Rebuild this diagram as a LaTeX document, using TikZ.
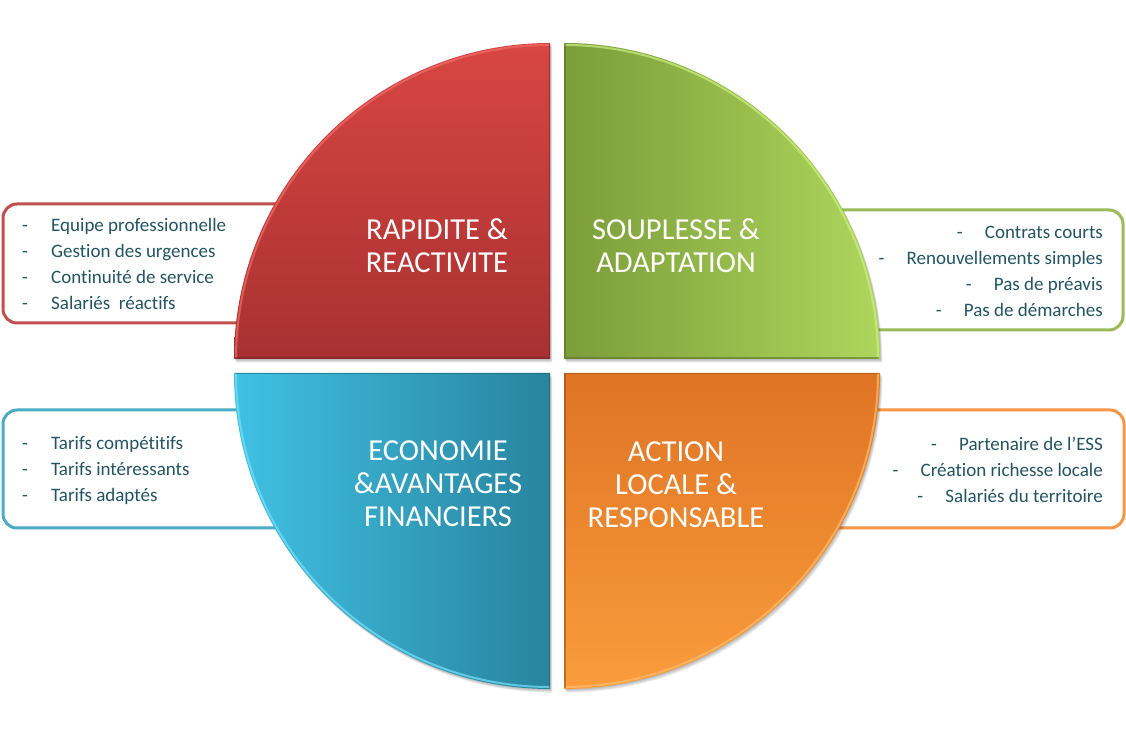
\documentclass[tikz,border=0pt]{standalone}
\usepackage{fontspec}
\setmainfont[Ligatures=NoCommon]{Carlito}
\definecolor{txtcol}{RGB}{36,84,98}
\definecolor{redline}{RGB}{192,80,77}
\definecolor{greenline}{RGB}{155,187,89}
\definecolor{blueline}{RGB}{75,172,198}
\definecolor{orangeline}{RGB}{247,150,70}
\definecolor{redtop}{RGB}{216,70,66}
\definecolor{redbot}{RGB}{168,49,49}
\definecolor{redhi}{RGB}{240,110,105}
\definecolor{reddk}{RGB}{120,35,35}
\definecolor{greenleft}{RGB}{124,157,58}
\definecolor{greenright}{RGB}{174,214,92}
\definecolor{greenhi}{RGB}{205,240,130}
\definecolor{greendk}{RGB}{90,115,40}
\definecolor{blueleft}{RGB}{64,193,228}
\definecolor{blueright}{RGB}{40,132,158}
\definecolor{bluehi}{RGB}{120,225,250}
\definecolor{bluedk}{RGB}{28,95,115}
\definecolor{orangetop}{RGB}{222,116,36}
\definecolor{orangebot}{RGB}{250,156,60}
\definecolor{orangehi}{RGB}{255,190,110}
\definecolor{orangedk}{RGB}{160,80,25}
\begin{document}
\begin{tikzpicture}[x=1pt,y=1pt,
  bodytext/.style={font=\fontsize{19}{22}\selectfont, text=txtcol, inner sep=0pt},
  titletext/.style={font=\fontsize{30.5}{33}\selectfont, text=white, align=center, inner sep=0pt},
  infobox/.style={rounded corners=14pt, line width=3pt, fill=white},
  shadowlayer/.style={fill=black, opacity=0.07}]
\useasboundingbox (0,0) rectangle (1126,731);
\fill[white] (0,0) rectangle (1126,731);

% info boxes (behind the disc)
\draw[infobox, draw=redline] (3,408) rectangle (330,527);
\draw[infobox, draw=greenline] (800,401) rectangle (1123,521);
\draw[infobox, draw=blueline] (3,203) rectangle (330,321);
\draw[infobox, draw=orangeline] (800,203) rectangle (1124,321);

% shadows
\foreach \s in {1,2,3,4}{
  \fill[shadowlayer, shift={(\s*0.6,-\s*0.9)}] (550,372) -- (234,372) arc[start angle=180,end angle=90,radius=316] -- cycle;
  \fill[shadowlayer, shift={(\s*0.6,-\s*0.9)}] (564,372) -- (564,688) arc[start angle=90,end angle=0,radius=316] -- cycle;
  \fill[shadowlayer, shift={(\s*0.6,-\s*0.9)}] (550,358) -- (234,358) arc[start angle=180,end angle=270,radius=316] -- cycle;
  \fill[shadowlayer, shift={(\s*0.6,-\s*0.9)}] (564,358) -- (880,358) arc[start angle=0,end angle=-90,radius=316] -- cycle;
}

% quarters
\shade[top color=redtop, bottom color=redbot] (550,372) -- (234,372) arc[start angle=180,end angle=90,radius=316] -- cycle;
\shade[left color=greenleft, right color=greenright] (564,372) -- (564,688) arc[start angle=90,end angle=0,radius=316] -- cycle;
\shade[left color=blueleft, right color=blueright] (550,358) -- (234,358) arc[start angle=180,end angle=270,radius=316] -- cycle;
\shade[top color=orangetop, bottom color=orangebot] (564,358) -- (880,358) arc[start angle=0,end angle=-90,radius=316] -- cycle;

% bevel highlights along arcs
\draw[redhi, line width=2pt, opacity=0.7] (550,372) ++(-314,0) arc[start angle=180,end angle=90,radius=314];
\draw[greenhi, line width=2pt, opacity=0.7] (564,372) ++(0,314) arc[start angle=90,end angle=0,radius=314];
\draw[bluehi, line width=2pt, opacity=0.7] (550,358) ++(-314,0) arc[start angle=180,end angle=270,radius=314];
\draw[orangehi, line width=2pt, opacity=0.7] (564,358) ++(314,0) arc[start angle=0,end angle=-90,radius=314];

% darker straight edges
\draw[reddk, line width=1.5pt, opacity=0.6] (235,372.75) -- (549.25,372.75) -- (549.25,687);
\draw[greendk, line width=1.5pt, opacity=0.6] (564.75,687) -- (564.75,372.75) -- (879,372.75);
\draw[bluedk, line width=1.5pt, opacity=0.6] (235,357.25) -- (549.25,357.25) -- (549.25,43);
\draw[orangedk, line width=1.5pt, opacity=0.6] (564.75,43) -- (564.75,357.25) -- (879,357.25);

% titles
\node[titletext] (tred) at (437,485) {RAPIDITE \&\\REACTIVITE};
\node[titletext] (tgreen) at (676,485) {SOUPLESSE \&\\ADAPTATION};
\node[titletext] (tblue) at (438,247) {ECONOMIE\\\&AVANTAGES\\FINANCIERS};
\node[titletext] (torange) at (676,246) {ACTION\\LOCALE \&\\RESPONSABLE};

% red list
\node[bodytext, anchor=mid west] (r1) at (22,502) {\makebox[29pt][l]{-}Equipe professionnelle};
\node[bodytext, anchor=mid west] (r2) at (22,476) {\makebox[29pt][l]{-}Gestion des urgences};
\node[bodytext, anchor=mid west] (r3) at (22,450) {\makebox[29pt][l]{-}Continuité de service};
\node[bodytext, anchor=mid west] (r4) at (22,424) {\makebox[29pt][l]{-}Salariés\ \ réactifs};

% green list
\node[bodytext, anchor=mid east] (g1) at (1103,495) {\makebox[28pt][l]{-}Contrats courts};
\node[bodytext, anchor=mid east] (g2) at (1103,469) {\makebox[28pt][l]{-}Renouvellements simples};
\node[bodytext, anchor=mid east] (g3) at (1103,443) {\makebox[28pt][l]{-}Pas de préavis};
\node[bodytext, anchor=mid east] (g4) at (1103,417) {\makebox[28pt][l]{-}Pas de démarches};

% blue list
\node[bodytext, anchor=mid west] (b1) at (22,284) {\makebox[29pt][l]{-}Tarifs compétitifs};
\node[bodytext, anchor=mid west] (b2) at (22,258) {\makebox[29pt][l]{-}Tarifs intéressants};
\node[bodytext, anchor=mid west] (b3) at (22,232) {\makebox[29pt][l]{-}Tarifs adaptés};

% orange list
\node[bodytext, anchor=mid east] (o1) at (1103,283) {\makebox[28pt][l]{-}Partenaire de l’ESS};
\node[bodytext, anchor=mid east] (o2) at (1103,257) {\makebox[28pt][l]{-}Création richesse locale};
\node[bodytext, anchor=mid east] (o3) at (1103,231) {\makebox[28pt][l]{-}Salariés du territoire};
\end{tikzpicture}
\end{document}
